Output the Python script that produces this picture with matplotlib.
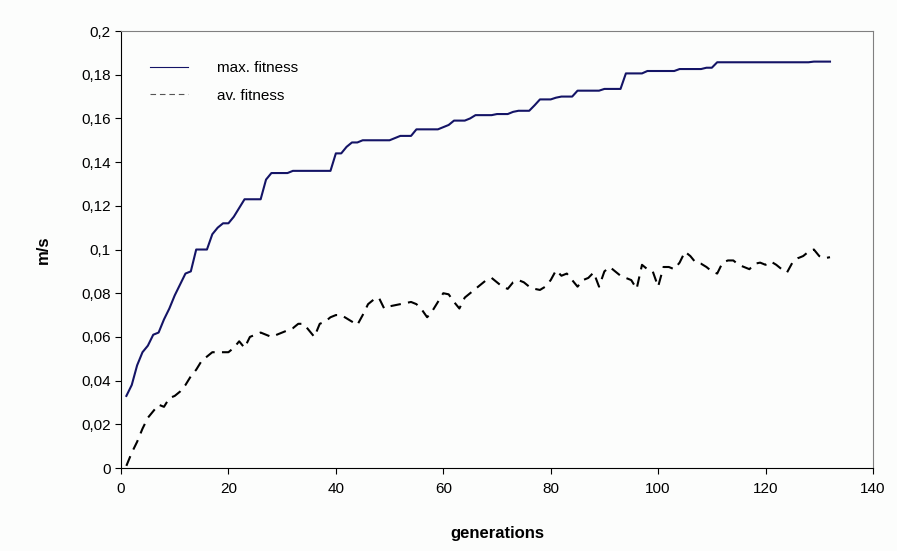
import matplotlib.pyplot as plt
import numpy as np

plt.rcParams['font.family'] = ['Liberation Sans', 'DejaVu Sans']

# fitness per generation
max_fitness = [
    0.033, 0.038, 0.047, 0.053, 0.056, 0.061, 0.062, 0.068, 0.073, 0.079,
    0.084, 0.089, 0.090, 0.100, 0.100, 0.100, 0.107, 0.110, 0.112, 0.112,
    0.115, 0.119, 0.123, 0.123, 0.123, 0.123, 0.132, 0.135, 0.135, 0.135,
    0.135, 0.136, 0.136, 0.136, 0.136, 0.136, 0.136, 0.136, 0.136, 0.144,
    0.144, 0.147, 0.149, 0.149, 0.150, 0.150, 0.150, 0.150, 0.150, 0.150,
    0.151, 0.152, 0.152, 0.152, 0.155, 0.155, 0.155, 0.155, 0.155, 0.156,
    0.157, 0.159, 0.159, 0.159, 0.160, 0.1615, 0.1615, 0.1615, 0.1615, 0.162,
    0.162, 0.162, 0.163, 0.1635, 0.1635, 0.1635, 0.166, 0.1687, 0.1687, 0.1687,
    0.1695, 0.170, 0.170, 0.170, 0.1727, 0.1727, 0.1727, 0.1727, 0.1727, 0.1735,
    0.1735, 0.1735, 0.1735, 0.1806, 0.1806, 0.1806, 0.1806, 0.1817, 0.1817, 0.1817,
    0.1817, 0.1817, 0.1817, 0.1826, 0.1826, 0.1826, 0.1826, 0.1826, 0.1832, 0.1832,
    0.1857, 0.1857, 0.1857, 0.1857, 0.1857, 0.1857, 0.1857, 0.1857, 0.1857, 0.1857,
    0.1857, 0.1857, 0.1857, 0.1857, 0.1857, 0.1857, 0.1857, 0.1857, 0.186, 0.186,
    0.186, 0.186,
]

av_fitness = [
    0.001, 0.007, 0.012, 0.018, 0.023, 0.026, 0.029, 0.028, 0.032, 0.033,
    0.035, 0.038, 0.042, 0.045, 0.049, 0.051, 0.053, 0.053, 0.053, 0.053,
    0.055, 0.058, 0.055, 0.060, 0.061, 0.062, 0.061, 0.060, 0.061, 0.062,
    0.063, 0.064, 0.066, 0.066, 0.063, 0.060, 0.066, 0.067, 0.069, 0.070,
    0.070, 0.0685, 0.067, 0.0655, 0.070, 0.075, 0.077, 0.078, 0.073, 0.074,
    0.0745, 0.075, 0.0755, 0.076, 0.075, 0.0725, 0.069, 0.072, 0.076, 0.080,
    0.0795, 0.076, 0.073, 0.078, 0.080, 0.082, 0.084, 0.086, 0.087, 0.085,
    0.083, 0.082, 0.085, 0.086, 0.085, 0.083, 0.082, 0.0815, 0.083, 0.086,
    0.0905, 0.088, 0.089, 0.086, 0.083, 0.086, 0.087, 0.0895, 0.083, 0.090,
    0.092, 0.090, 0.088, 0.087, 0.086, 0.082, 0.093, 0.091, 0.090, 0.083,
    0.092, 0.092, 0.091, 0.094, 0.099, 0.097, 0.094, 0.0935, 0.092, 0.090,
    0.089, 0.094, 0.095, 0.095, 0.093, 0.092, 0.091, 0.0935, 0.094, 0.093,
    0.0945, 0.093, 0.091, 0.0895, 0.094, 0.096, 0.097, 0.099, 0.100, 0.097,
    0.096, 0.0965,
]

generations = np.arange(1, len(max_fitness) + 1)

y_ticks = [0, 0.02, 0.04, 0.06, 0.08, 0.1, 0.12, 0.14, 0.16, 0.18, 0.2]
y_tick_labels = ['0', '0,02', '0,04', '0,06', '0,08', '0,1', '0,12',
                 '0,14', '0,16', '0,18', '0,2']
x_ticks = [0, 20, 40, 60, 80, 100, 120, 140]

bg = '#fcfdfc'
fig = plt.figure(figsize=(8.97, 5.51), dpi=100, facecolor=bg)
ax = fig.add_axes([0.1349, 0.1506, 0.8383, 0.7931], facecolor=bg)

ax.plot(generations, max_fitness, color='#141466', linewidth=1.5,
        label='max. fitness')
ax.plot(generations, av_fitness, color='black', linewidth=1.5,
        dashes=(5, 3.5), label='av. fitness')

ax.set_xlim(0, 140)
ax.set_ylim(0, 0.2)
ax.set_xticks(x_ticks)
ax.set_yticks(y_ticks)
ax.set_yticklabels(y_tick_labels)
ax.tick_params(axis='both', labelsize=11, length=4, width=0.8, color='black')
ax.tick_params(axis='x', pad=6)

for side in ['top', 'right']:
    ax.spines[side].set_color('#808080')
for side in ['left', 'bottom']:
    ax.spines[side].set_color('black')

ax.set_xlabel('generations', fontsize=12, fontweight='bold', labelpad=22)
ax.set_ylabel('m/s', fontsize=12, fontweight='bold', labelpad=22)

leg = ax.legend(loc='upper left', bbox_to_anchor=(0.02, 0.963), frameon=False,
                fontsize=11, handlelength=2.5, handletextpad=1.9,
                labelspacing=0.9)
for line in leg.get_lines():
    line.set_linewidth(0.8)
leg.get_lines()[1].set_color('#555555')

fig.savefig('out.png', dpi=100, facecolor=bg)
